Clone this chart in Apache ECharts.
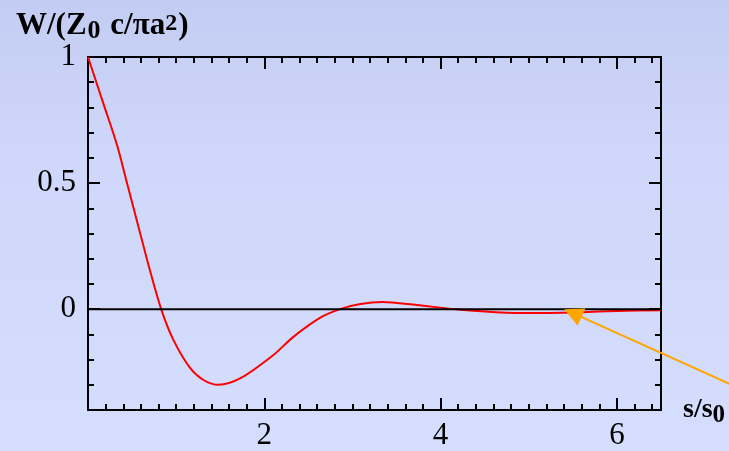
<!DOCTYPE html>
<html>
<head>
<meta charset="utf-8">
<script src="https://cdn.jsdelivr.net/npm/echarts@6/dist/echarts.min.js"></script>
<style>
html,body{margin:0;padding:0;background:#cdd5f7;}
#c{width:729px;height:451px;}
</style>
</head>
<body>
<div id="c"></div>
<script>
// data
var sValues = [0, 0.17, 0.33, 0.45, 0.57, 0.69, 0.83, 0.97, 1.16, 1.32, 1.48, 1.73, 2.1, 2.33, 2.64, 2.86, 3.09, 3.34, 3.73, 4.17, 4.68, 5.1, 5.6, 6.0, 6.5];
var wValues = [1, 0.82, 0.65, 0.49, 0.33, 0.17, 0, -0.123, -0.234, -0.283, -0.300, -0.274, -0.183, -0.110, -0.033, 0, 0.020, 0.028, 0.016, 0, -0.013, -0.015, -0.012, -0.007, -0.004];
var zeroS = [0, 6.5];
var zeroW = [0, 0];
var arrowFrom = [7.3, -0.30];
var arrowTo = [5.5, -0.016];
var xMajorTicks = [2, 4, 6];
var xMinorTicks = [0.2,0.4,0.6,0.8,1,1.2,1.4,1.6,1.8,2.2,2.4,2.6,2.8,3,3.2,3.4,3.6,3.8,4.2,4.4,4.6,4.8,5,5.2,5.4,5.6,5.8,6.2,6.4];
var yMajorTicks = [0, 0.5, 1];
var yMinorTicks = [-0.3,-0.2,-0.1,0.1,0.2,0.3,0.4,0.6,0.7,0.8,0.9];
var xRange = [0, 6.5];
var yRange = [-0.4, 1];

var chart = echarts.init(document.getElementById('c'), null, {renderer: 'canvas'});
var serif = '"Liberation Serif", "DejaVu Serif", serif';
var black = '#000';

function xAx(gi, pos, ticks, len, labels) {
  return {
    type: 'value', gridIndex: gi, position: pos, min: xRange[0], max: xRange[1],
    axisLine: {show: true, onZero: false, lineStyle: {color: black, width: 2}},
    axisTick: {show: true, inside: true, length: len, customValues: ticks, lineStyle: {color: black, width: 2}},
    axisLabel: labels ? {show: true, customValues: xMajorTicks, color: black, fontFamily: serif, fontSize: 31, margin: 10} : {show: false},
    splitLine: {show: false},
    name: (labels && pos === 'bottom') ? '{b|s/s}{sub|0}' : '',
    nameLocation: 'end', nameGap: 22,
    nameTextStyle: {
      rich: {
        b: {fontFamily: serif, fontWeight: 'bold', fontSize: 28, color: black},
        sub: {fontFamily: serif, fontWeight: 'bold', fontSize: 25, color: black, padding: [12, 0, 0, 0]}
      }
    }
  };
}
function yAx(gi, pos, ticks, len, labels) {
  return {
    type: 'value', gridIndex: gi, position: pos, min: yRange[0], max: yRange[1],
    axisLine: {show: true, onZero: false, lineStyle: {color: black, width: 2}},
    axisTick: {show: true, inside: true, length: len, customValues: ticks, lineStyle: {color: black, width: 2}},
    axisLabel: labels ? {show: true, customValues: yMajorTicks, color: black, fontFamily: serif, fontSize: 31, margin: 12} : {show: false},
    splitLine: {show: false}
  };
}

var gridBox = {left: 88, right: 68, top: 57, bottom: 41, containLabel: false};

var option = {
  backgroundColor: new echarts.graphic.LinearGradient(0, 0, 0, 1, [
    {offset: 0, color: '#c3ccf2'},
    {offset: 0.35, color: '#cfd7fa'},
    {offset: 1, color: '#d5defe'}
  ]),
  animation: false,
  title: {
    left: 11, top: 2,
    text: '{b|W/(Z}{sub|0}{b| c/\u03c0a}{sup|2}{b|)}',
    textStyle: {
      rich: {
        b: {fontFamily: serif, fontWeight: 'bold', fontSize: 31, color: black},
        sub: {fontFamily: serif, fontWeight: 'bold', fontSize: 26, color: black, padding: [11, 2, 0, 1]},
        sup: {fontFamily: serif, fontWeight: 'bold', fontSize: 24, color: black, padding: [0, 1, 3, 0]}
      }
    }
  },
  grid: [Object.assign({}, gridBox), Object.assign({}, gridBox)],
  xAxis: [
    xAx(0, 'bottom', xMajorTicks, 12, true),
    xAx(0, 'top', xMajorTicks, 12, false),
    xAx(1, 'bottom', xMinorTicks, 6, false),
    xAx(1, 'top', xMinorTicks, 6, false)
  ],
  yAxis: [
    yAx(0, 'left', yMajorTicks, 12, true),
    yAx(0, 'right', yMajorTicks, 12, false),
    yAx(1, 'left', yMinorTicks, 6, false),
    yAx(1, 'right', yMinorTicks, 6, false)
  ],
  series: [
    {
      type: 'line', xAxisIndex: 0, yAxisIndex: 0,
      data: sValues.map(function (s, i) { return [s, wValues[i]]; }),
      smooth: 0.3, showSymbol: false, symbol: 'none',
      lineStyle: {color: '#ff0000', width: 2}, z: 3
    },
    {
      type: 'line', xAxisIndex: 0, yAxisIndex: 0,
      data: zeroS.map(function (s, i) { return [s, zeroW[i]]; }),
      showSymbol: false, symbol: 'none',
      lineStyle: {color: black, width: 2}, z: 4
    },
    {
      type: 'lines', coordinateSystem: 'cartesian2d', xAxisIndex: 0, yAxisIndex: 0,
      clip: false, z: 5, silent: true,
      symbol: ['none', 'triangle'], symbolSize: [1, 19],
      lineStyle: {color: '#ffa500', width: 2, opacity: 1, curveness: 0},
      data: [{coords: [arrowFrom, arrowTo]}]
    }
  ]
};
chart.setOption(option);
</script>
</body>
</html>
